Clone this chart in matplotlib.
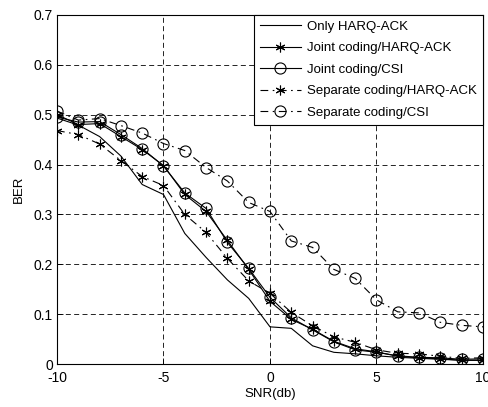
import matplotlib
matplotlib.use("Agg")
import matplotlib.pyplot as plt
import numpy as np

snr = list(range(-10, 11))
only_harq = [0.493, 0.479, 0.456, 0.417, 0.360, 0.340, 0.262, 0.214, 0.169, 0.132, 0.075,
             0.072, 0.037, 0.024, 0.021, 0.017, 0.014, 0.012, 0.010, 0.008, 0.008]
joint_harq = [0.500, 0.480, 0.482, 0.456, 0.430, 0.398, 0.340, 0.306, 0.248, 0.190, 0.126,
              0.090, 0.070, 0.046, 0.031, 0.025, 0.016, 0.013, 0.011, 0.008, 0.008]
joint_csi = [0.495, 0.485, 0.486, 0.460, 0.432, 0.397, 0.343, 0.312, 0.244, 0.192, 0.134,
             0.093, 0.069, 0.045, 0.029, 0.024, 0.017, 0.014, 0.013, 0.010, 0.011]
sep_harq = [0.468, 0.460, 0.441, 0.408, 0.376, 0.358, 0.300, 0.264, 0.212, 0.167, 0.142,
            0.104, 0.077, 0.055, 0.044, 0.029, 0.022, 0.021, 0.016, 0.012, 0.013]
sep_csi = [0.507, 0.489, 0.492, 0.478, 0.463, 0.442, 0.428, 0.394, 0.367, 0.324, 0.306,
           0.247, 0.234, 0.190, 0.172, 0.129, 0.105, 0.103, 0.084, 0.078, 0.075]
labels = ["Only HARQ-ACK", "Joint coding/HARQ-ACK", "Joint coding/CSI",
          "Separate coding/HARQ-ACK", "Separate coding/CSI"]
xticks = [-10, -5, 0, 5, 10]
yticks = [0, 0.1, 0.2, 0.3, 0.4, 0.5, 0.6, 0.7]

plt.rcParams['font.family'] = ['Liberation Sans', 'DejaVu Sans']
plt.rcParams['font.size'] = 9.5

fig = plt.figure(figsize=(4.89, 4.07), dpi=100)
ax = fig.add_axes([57/489, 1-364.3/407, (483-57)/489, (364.3-14.7)/407])

lw = 0.8
dashdot = (0, (7, 4, 1.5, 4))
ax.plot(snr, only_harq, color='black', lw=lw, label=labels[0])
ax.plot(snr, joint_harq, color='black', lw=lw, marker=(6, 2, 0), ms=7, mew=0.8, label=labels[1])
ax.plot(snr, joint_csi, color='black', lw=lw, marker='o', ms=8, mfc='none', mew=0.8, label=labels[2])
ax.plot(snr, sep_harq, color='black', lw=lw, ls=dashdot, marker=(6, 2, 0), ms=7, mew=0.8, label=labels[3])
ax.plot(snr, sep_csi, color='black', lw=lw, ls=dashdot, marker='o', ms=8, mfc='none', mew=0.8, label=labels[4])

ax.set_xlim(-10, 10)
ax.set_ylim(0, 0.7)
ax.set_xticks(xticks)
ax.set_xticklabels([str(v) for v in xticks])
ax.set_yticks(yticks)
ax.set_yticklabels(["0"] + [f"{v:.1f}" for v in yticks[1:]])
ax.tick_params(direction='in', length=4, width=0.6, labelsize=10)
ax.tick_params(axis='x', pad=5)
ax.tick_params(axis='y', pad=3)
ax.grid(True, color='black', ls=(0, (6, 4)), lw=0.6)
for s in ax.spines.values():
    s.set_linewidth(0.8)
ax.set_xlabel("SNR(db)", fontsize=9.5, labelpad=2)
ax.set_ylabel("BER", fontsize=9.5, labelpad=6)

leg = ax.legend(loc='upper right', bbox_to_anchor=(1.0, 1.0), fontsize=9.5, frameon=True,
                fancybox=False, edgecolor='black', framealpha=1, borderaxespad=0,
                handlelength=3.1, handletextpad=0.5, labelspacing=0.7, borderpad=0.45)
leg.get_frame().set_linewidth(0.8)

fig.savefig("out.png", dpi=100)
